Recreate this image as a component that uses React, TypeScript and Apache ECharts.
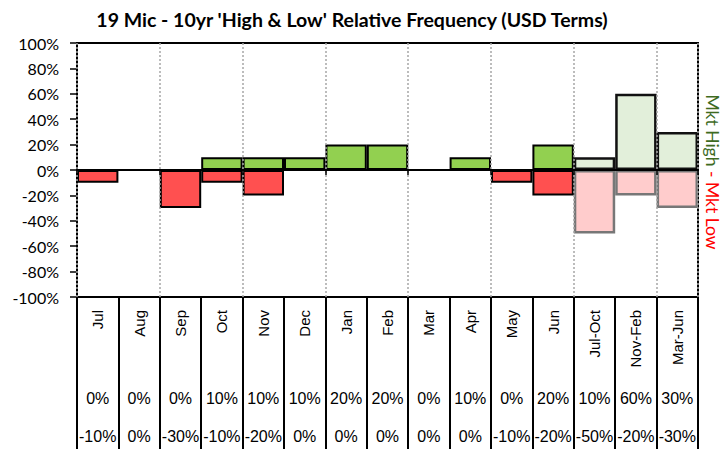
import React, { useEffect, useRef } from "react";
import * as echarts from "echarts";

const categories = ["Jul", "Aug", "Sep", "Oct", "Nov", "Dec", "Jan", "Feb", "Mar", "Apr", "May", "Jun", "Jul-Oct", "Nov-Feb", "Mar-Jun"];
const highValues = [0, 0, 0, 10, 10, 10, 20, 20, 0, 10, 0, 20, 10, 60, 30];
const lowValues = [-10, 0, -30, -10, -20, 0, 0, 0, 0, 0, -10, -20, -50, -20, -30];
const monthlyCount = 12;
const titleText = "19 Mic - 10yr 'High & Low' Relative Frequency (USD Terms)";
const yMin = -100;
const yMax = 100;
const yStep = 20;

export default function App() {
  const ref = useRef<HTMLDivElement>(null);
  useEffect(() => {
    if (!ref.current) return;
    const chart = echarts.init(ref.current, undefined, { renderer: "svg" });
    const monthly = (arr: number[]) => arr.map((v, i) => (i < monthlyCount ? v : "-"));
    const seasonal = (arr: number[]) => arr.map((v, i) => (i >= monthlyCount ? v : "-"));
    const baseX = { type: "category", data: categories, position: "bottom", boundaryGap: true };
    const hiddenAxis = { show: false };
    chart.setOption({
      animation: false,
      backgroundColor: "#ffffff",
      title: {
        text: titleText,
        left: 347,
        textAlign: "center",
        top: 4,
        textStyle: { fontFamily: "Lato", fontWeight: "bold", fontSize: 19.5, color: "#000" },
      },
      grid: {
        left: 77,
        right: 24,
        top: 43,
        bottom: 152,
        show: true,
        borderColor: "#000",
        borderWidth: 2,
        containLabel: false,
      },
      xAxis: [
        {
          ...baseX,
          axisLine: { onZero: true, lineStyle: { color: "#000", width: 2 } },
          axisTick: { show: true, length: 5, lineStyle: { color: "#000", width: 1.5 } },
          axisLabel: { show: false },
          splitLine: { show: true, lineStyle: { type: [2, 2], color: "#a6a6a6", width: 1.5 } },
          z: 5,
        },
        {
          ...baseX,
          axisLine: { onZero: false, lineStyle: { color: "#000", width: 2 } },
          axisTick: { show: true, interval: 0, length: 152, lineStyle: { color: "#000", width: 2 } },
          axisLabel: {
            show: true,
            interval: 0,
            rotate: 90,
            margin: 13,
            fontFamily: "Liberation Sans",
            fontSize: 15,
            color: "#000",
          },
          splitLine: hiddenAxis,
        },
        {
          ...baseX,
          axisLine: { show: false, onZero: false },
          axisTick: hiddenAxis,
          axisLabel: {
            show: true,
            interval: 0,
            margin: 93,
            fontFamily: "Liberation Sans",
            fontSize: 16,
            color: "#000",
            formatter: (_v: string, i: number) => `${highValues[i]}%`,
          },
          splitLine: hiddenAxis,
        },
        {
          ...baseX,
          axisLine: { show: false, onZero: false },
          axisTick: hiddenAxis,
          axisLabel: {
            show: true,
            interval: 0,
            margin: 131,
            fontFamily: "Liberation Sans",
            fontSize: 16,
            color: "#000",
            formatter: (_v: string, i: number) => `${lowValues[i]}%`,
          },
          splitLine: hiddenAxis,
        },
      ],
      yAxis: {
        type: "value",
        min: yMin,
        max: yMax,
        interval: yStep,
        axisLine: { show: true, lineStyle: { color: "#000", width: 2 } },
        axisTick: { show: true, length: 7, lineStyle: { color: "#000", width: 1.5 } },
        axisLabel: {
          margin: 18,
          fontFamily: "Lato",
          fontSize: 16,
          color: "#000",
          formatter: (v: number) => `${v}%`,
        },
        splitLine: { show: false },
      },
      series: [
        {
          type: "bar",
          name: "Mkt High",
          data: monthly(highValues),
          barGap: "-100%",
          barCategoryGap: 0,
          itemStyle: { color: "#92d050", borderColor: "#000", borderWidth: 2 },
          z: 3,
        },
        {
          type: "bar",
          name: "Mkt Low",
          data: monthly(lowValues),
          barGap: "-100%",
          barCategoryGap: 0,
          itemStyle: { color: "#ff5050", borderColor: "#000", borderWidth: 2 },
          z: 3,
        },
        {
          type: "bar",
          name: "Mkt High (season)",
          data: seasonal(highValues),
          barGap: "-100%",
          barCategoryGap: 0,
          itemStyle: { color: "#e2efda", borderColor: "#111", borderWidth: 2.5 },
          z: 3,
        },
        {
          type: "bar",
          name: "Mkt Low (season)",
          data: seasonal(lowValues),
          barGap: "-100%",
          barCategoryGap: 0,
          itemStyle: { color: "#ffcccc", borderColor: "#777", borderWidth: 2.5 },
          z: 2,
        },
      ],
      graphic: [
        {
          type: "text",
          x: 712,
          y: 172,
          rotation: -Math.PI / 2,
          style: {
            text: "{g|Mkt High }{r|- Mkt Low}",
            align: "center",
            verticalAlign: "middle",
            rich: {
              g: { fill: "#3e6b1f", fontFamily: "Lato", fontSize: 17.5 },
              r: { fill: "#ff0000", fontFamily: "Lato", fontSize: 17.5 },
            },
          },
        },
      ],
    });
    return () => chart.dispose();
  }, []);
  return <div ref={ref} style={{ position: "fixed", left: 0, top: 0, width: 722, height: 449 }} />;
}
